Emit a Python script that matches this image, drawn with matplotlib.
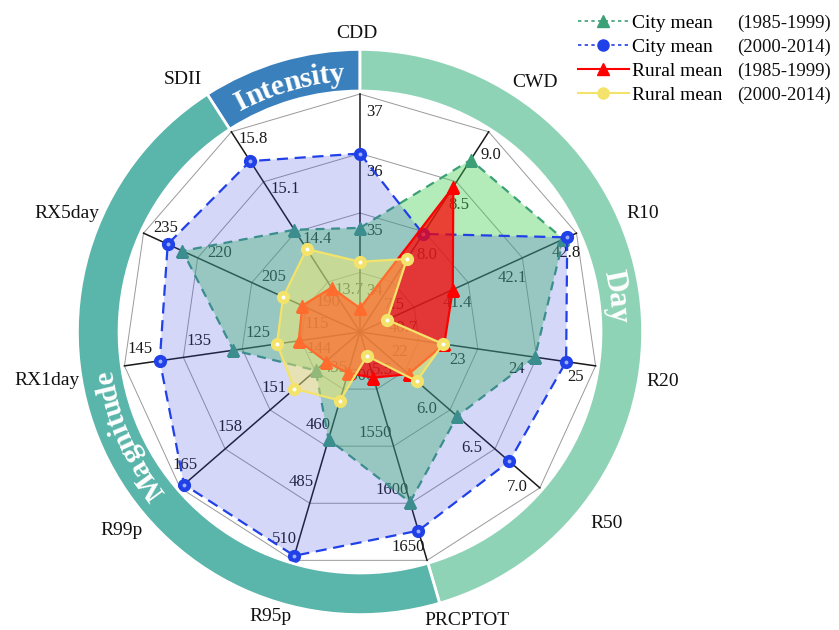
import numpy as np
import matplotlib
matplotlib.use('Agg')
import matplotlib.pyplot as plt
from matplotlib.lines import Line2D
from matplotlib.font_manager import FontProperties

plt.rcParams['font.family'] = ['Liberation Serif', 'DejaVu Serif']

# axes, clockwise from the top
indices = ['CDD', 'CWD', 'R10', 'R20', 'R50', 'PRCPTOT', 'R95p', 'R99p', 'RX1day', 'RX5day', 'SDII']

tick_labels = [
    ['34', '35', '36', '37'],
    ['7.5', '8.0', '8.5', '9.0'],
    ['40.7', '41.4', '42.1', '42.8'],
    ['22', '23', '24', '25'],
    ['5.5', '6.0', '6.5', '7.0'],
    ['1500', '1550', '1600', '1650'],
    ['435', '460', '485', '510'],
    ['144', '151', '158', '165'],
    ['115', '125', '135', '145'],
    ['190', '205', '220', '235'],
    ['13.7', '14.4', '15.1', '15.8'],
]

city_1985 = [34.75, 8.72, 42.63, 23.97, 6.08, 1599, 457, 143.9, 126.5, 224.2, 14.43]
city_2000 = [36.0, 7.98, 42.68, 24.5, 6.66, 1624, 508, 164.4, 139, 228.3, 15.39]
rural_1985 = [33.4, 8.45, 41.2, 22.43, 5.54, 1490, 428, 142.3, 115.4, 191, 13.62]
rural_2000 = [34.18, 7.73, 40.35, 22.41, 5.63, 1471, 440, 147.2, 119.1, 196.3, 14.16]

groups = ['Intensity', 'Day', 'Magnitude']
group_colors = ['#3a80bd', '#8fd3b6', '#5ab5aa']

# where each axis name sits: (angle in degrees, radius in pixels)
name_pos = [(-0.6, 299), (35, 305), (67.2, 307), (99.2, 307), (127.9, 312), (159.6, 308),
            (197.4, 298), (230.2, 310), (261.2, 317), (292, 316), (325, 308)]

n = len(indices)
theta = np.arange(n) * 2 * np.pi / n
ticks = [[float(t) for t in tl] for tl in tick_labels]
steps = [t[1] - t[0] for t in ticks]
origins = [t[0] - s for t, s in zip(ticks, steps)]


def scale(vals):
    return [(v - o) / s for v, o, s in zip(vals, origins, steps)]


fig = plt.figure(figsize=(8.39, 6.3), dpi=100)
ax = fig.add_axes([0.0745, 0.0008, 0.7092, 0.9444], projection='polar')
ax.set_theta_zero_location('N')
ax.set_theta_direction(-1)
ax.set_ylim(0, 5)
ax.set_axis_off()
unit_px = 0.7092 * 839 / 2 / 5

# grid rings and spokes
closed = np.append(theta, theta[0])
for k in range(1, 5):
    ax.plot(closed, [k] * (n + 1), color='#9a9a9a', lw=0.7, zorder=1)
for t in theta:
    ax.plot([t, t], [0, 4], color='#1a1a1a', lw=1.1, zorder=1.5)

# tick labels on each spoke
for i, t in enumerate(theta):
    u = np.array([np.sin(t), np.cos(t)])
    p = np.array([np.cos(t), -np.sin(t)])
    off = (-18 * u + 14 * p) * 0.72
    for k, lbl in enumerate(tick_labels[i]):
        ax.annotate(lbl, xy=(t, k + 1), xytext=off, textcoords='offset points',
                    ha='center', va='center', fontsize=12, color='#1a1a1a', zorder=2)

# series
series = [
    (city_1985, '#3ca076', '#43cd50', 0.4, (0, (4, 3)), '^', 8.5, 3),
    (city_2000, '#2040e8', '#3c4be1', 0.22, (0, (5, 3)), 'o', 8.5, 4),
    (rural_1985, '#ff0000', '#ff0000', 0.72, '-', '^', 9, 5),
    (rural_2000, '#f3e36a', '#fff064', 0.45, '-', 'o', 8.5, 6),
]
for vals, lc, fc, alpha, ls, mk, ms, z in series:
    r = scale(vals)
    rc = np.append(r, r[0])
    ax.plot(closed, rc, color=lc, ls=ls, lw=1.6, zorder=z)
    ax.plot(theta, r, ls='none', marker=mk, ms=ms, color=lc, mec=lc, zorder=z + 0.1)
    if mk == 'o':
        hl = '#9fb0ff' if z == 4 else 'white'
        ax.plot(theta, r, ls='none', marker='o', ms=2.8, color=hl, mec='none', zorder=z + 0.2)
    ax.fill(closed, rc, color=fc, alpha=alpha, lw=0, zorder=z - 0.5)

# outer group band
step_deg = 360 / n
spans = [(-step_deg, 0), (0, 5 * step_deg), (5 * step_deg, 10 * step_deg)]
for (a0, a1), c in zip(spans, group_colors):
    ax.bar(np.radians((a0 + a1) / 2), 0.70, width=np.radians(a1 - a0), bottom=4.05,
           color=c, edgecolor='white', linewidth=2, zorder=8)

fig.canvas.draw()
renderer = fig.canvas.get_renderer()


def arc_text(s, theta_c, r_base, fs):
    fp = FontProperties(family='Liberation Serif', weight='bold', size=fs)
    widths = [0.0] + [renderer.get_text_width_height_descent(s[:i], fp, ismath=False)[0]
                      for i in range(1, len(s) + 1)]
    total = widths[-1]
    r_px = (r_base + 0.15) * unit_px
    for i, ch in enumerate(s):
        mid = (widths[i] + widths[i + 1]) / 2 - total / 2
        th = theta_c + np.degrees(mid / r_px)
        ax.text(np.radians(th), r_base, ch, rotation=-th, rotation_mode='anchor',
                ha='center', va='baseline', fontproperties=fp, color='white', zorder=9)


arc_text('Intensity', -16, 4.22, 21.5)
arc_text('Day', 82, 4.22, 22)
arc_text('Magnitude', 246, 4.22, 21.5)

# axis names
for name, (a, rp) in zip(indices, name_pos):
    ax.text(np.radians(a), rp / unit_px, name, ha='center', va='center',
            fontsize=14, color='#111111', zorder=10)

handles = [
    Line2D([], [], color='#3ca076', ls=(0, (2, 2)), marker='^', ms=8.5, lw=1.2),
    Line2D([], [], color='#2040e8', ls=(0, (2, 2)), marker='o', ms=8, lw=1.2),
    Line2D([], [], color='#ff0000', ls='-', marker='^', ms=9, lw=1.5),
    Line2D([], [], color='#f3e36a', ls='-', marker='o', ms=8, lw=1.5),
]
names = ['City mean', 'City mean', 'Rural mean', 'Rural mean']
periods = ['(1985-1999)', '(2000-2014)', '(1985-1999)', '(2000-2014)']
leg = fig.legend(handles, names, loc='upper left', bbox_to_anchor=(578 / 839, 1 - 14 / 630),
                 frameon=False, fontsize=14, handlelength=2.6, handletextpad=0.2,
                 labelspacing=0.33, borderaxespad=0, borderpad=0)
fig.canvas.draw()
for txt, per in zip(leg.get_texts(), periods):
    bb = txt.get_window_extent(renderer)
    fig.text(737 / 839, (bb.y0 + bb.y1) / 2 / 630, per, fontsize=13.5, ha='left',
             va='center', color='#111111')

fig.savefig('out.png', dpi=100)
